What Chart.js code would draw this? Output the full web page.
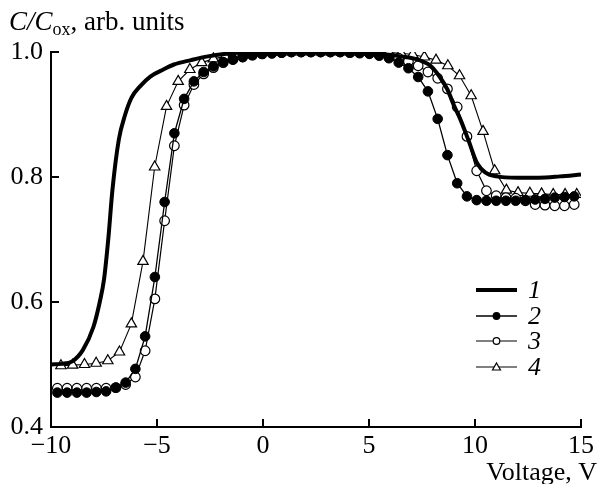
<!DOCTYPE html>
<html>
<head>
<meta charset="utf-8">
<script src="https://cdn.jsdelivr.net/npm/chart.js@4/dist/chart.umd.min.js"></script>
<style>
  html, body { margin: 0; padding: 0; background: #fff; }
  #wrap { width: 598px; height: 484px; position: relative; }
</style>
</head>
<body>
<div id="wrap"><canvas id="cv"></canvas></div>
<script>
// Curve 1 (thick line, no markers)
const voltage1 = [-10, -9.5, -9.0, -8.5, -8.0, -7.7, -7.5, -7.3, -7.1, -6.8, -6.5, -6.2, -5.8, -5.3, -4.7, -4.2, -3.4, -2.6, -1.5, 0, 2, 4, 5.5, 6.5, 7.3, 7.9, 8.3, 8.7, 9.0, 9.3, 9.7, 10.1, 10.5, 11.0, 12.0, 13.0, 14.0, 15.0];
const curve1 = [0.500, 0.501, 0.505, 0.523, 0.560, 0.600, 0.636, 0.700, 0.780, 0.860, 0.900, 0.927, 0.945, 0.961, 0.972, 0.980, 0.987, 0.993, 0.998, 1.000, 1.000, 1.000, 0.997, 0.993, 0.988, 0.978, 0.962, 0.940, 0.915, 0.893, 0.858, 0.822, 0.807, 0.801, 0.799, 0.799, 0.801, 0.804];

// Curves 2 and 3 (circles) share one voltage list
const voltageCirc = [-9.70, -9.24, -8.78, -8.32, -7.86, -7.40, -6.94, -6.48, -6.02, -5.56, -5.10, -4.64, -4.18, -3.72, -3.26, -2.80, -2.34, -1.88, -1.42, -0.96, -0.50, -0.04, 0.42, 0.88, 1.34, 1.80, 2.26, 2.72, 3.18, 3.64, 4.10, 4.56, 5.02, 5.48, 5.94, 6.40, 6.86, 7.32, 7.78, 8.24, 8.70, 9.16, 9.62, 10.08, 10.54, 11.00, 11.46, 11.92, 12.38, 12.84, 13.30, 13.76, 14.22, 14.68];
const curve2 = [0.455, 0.455, 0.455, 0.455, 0.456, 0.457, 0.463, 0.471, 0.493, 0.545, 0.640, 0.760, 0.870, 0.925, 0.953, 0.968, 0.977, 0.984, 0.988, 0.992, 0.995, 0.997, 0.998, 0.999, 1.000, 1.000, 1.000, 1.000, 1.000, 1.000, 0.999, 0.998, 0.997, 0.994, 0.990, 0.983, 0.974, 0.960, 0.937, 0.893, 0.835, 0.790, 0.769, 0.763, 0.762, 0.762, 0.762, 0.762, 0.763, 0.764, 0.765, 0.767, 0.768, 0.769];
const curve3 = [0.462, 0.462, 0.462, 0.462, 0.462, 0.462, 0.463, 0.468, 0.480, 0.522, 0.605, 0.730, 0.850, 0.915, 0.948, 0.965, 0.975, 0.983, 0.988, 0.992, 0.995, 0.997, 0.998, 0.999, 1.000, 1.000, 1.000, 1.000, 1.000, 1.000, 0.999, 0.999, 0.998, 0.996, 0.994, 0.990, 0.985, 0.978, 0.968, 0.958, 0.941, 0.912, 0.865, 0.810, 0.778, 0.770, 0.767, 0.766, 0.762, 0.756, 0.755, 0.754, 0.754, 0.756];

// Curve 4 (triangles)
const voltageTri = [-9.53, -8.98, -8.42, -7.87, -7.32, -6.77, -6.21, -5.66, -5.11, -4.55, -4.00, -3.45, -2.89, -2.34, -1.79, -1.24, -0.68, -0.13, 0.42, 0.98, 1.53, 2.08, 2.64, 3.19, 3.74, 4.29, 4.85, 5.40, 5.95, 6.51, 7.06, 7.61, 8.16, 8.72, 9.27, 9.82, 10.38, 10.93, 11.48, 12.03, 12.59, 13.14, 13.69, 14.25, 14.80];
const curve4 = [0.498, 0.499, 0.500, 0.502, 0.506, 0.520, 0.565, 0.665, 0.816, 0.913, 0.953, 0.972, 0.983, 0.989, 0.993, 0.996, 0.998, 0.999, 1.000, 1.000, 1.000, 1.000, 1.000, 1.000, 1.000, 1.000, 1.000, 0.999, 0.999, 0.998, 0.996, 0.992, 0.987, 0.978, 0.962, 0.930, 0.873, 0.810, 0.779, 0.775, 0.774, 0.773, 0.772, 0.772, 0.772];

const seriesLabels = ['1', '2', '3', '4'];
const xTicks = [-10, -5, 0, 5, 10, 15];
const yTicks = [0.4, 0.6, 0.8, 1.0];

const FONT = '"Liberation Serif", "Times New Roman", serif';

function pts(xs, ys) {
  return xs.map((x, i) => ({ x: x, y: ys[i] }));
}

// inward tick marks, axis titles and the legend
const decorPlugin = {
  id: 'decor',
  afterDraw(chart) {
    const ctx = chart.ctx;
    const xs = chart.scales.x, ys = chart.scales.y;
    const area = chart.chartArea;
    ctx.save();
    ctx.strokeStyle = '#000';
    ctx.lineWidth = 2;
    ctx.beginPath();
    xTicks.forEach(v => {
      const px = xs.getPixelForValue(v);
      ctx.moveTo(px, area.bottom);
      ctx.lineTo(px, area.bottom - 8);
    });
    yTicks.forEach(v => {
      const py = ys.getPixelForValue(v);
      ctx.moveTo(area.left, py);
      ctx.lineTo(area.left + 8, py);
    });
    ctx.stroke();

    // y title: C/C_ox, arb. units
    ctx.fillStyle = '#000';
    ctx.textBaseline = 'alphabetic';
    ctx.textAlign = 'left';
    let x = 9, base = 30;
    ctx.font = 'italic 27px ' + FONT;
    ctx.fillText('C/C', x, base);
    x += ctx.measureText('C/C').width;
    ctx.font = '18px ' + FONT;
    ctx.fillText('ox', x, base + 5);
    x += ctx.measureText('ox').width;
    ctx.font = '27px ' + FONT;
    ctx.fillText(', arb. units', x, base);

    // x title
    ctx.textAlign = 'right';
    ctx.font = '26px ' + FONT;
    ctx.fillText('Voltage, V', 597, 480);

    // legend
    const rows = [290, 316, 341, 367];
    chart.data.datasets.forEach((ds, i) => {
      const y = rows[i];
      ctx.strokeStyle = '#000';
      ctx.lineWidth = ds.borderWidth;
      ctx.beginPath();
      ctx.moveTo(476, y);
      ctx.lineTo(517, y);
      ctx.stroke();
      if (ds.pointRadius > 0) {
        ctx.fillStyle = ds.pointBackgroundColor;
        ctx.strokeStyle = '#000';
        ctx.lineWidth = 1.2;
        ctx.beginPath();
        if (ds.pointStyle === 'triangle') {
          ctx.moveTo(496.5, y - 4);
          ctx.lineTo(500.5, y + 3);
          ctx.lineTo(492.5, y + 3);
          ctx.closePath();
        } else {
          ctx.arc(496.5, y, 3.3, 0, Math.PI * 2);
        }
        ctx.fill();
        ctx.stroke();
      }
      ctx.fillStyle = '#000';
      ctx.textAlign = 'left';
      ctx.textBaseline = 'middle';
      ctx.font = 'italic 26px ' + FONT;
      ctx.fillText(seriesLabels[i], 528, y + 1);
    });
    ctx.restore();
  }
};

new Chart(document.getElementById('cv'), {
  type: 'line',
  data: {
    datasets: [
      {
        label: seriesLabels[0],
        data: pts(voltage1, curve1),
        borderColor: '#000',
        borderWidth: 4,
        pointRadius: 0,
        cubicInterpolationMode: 'monotone'
      },
      {
        label: seriesLabels[1],
        data: pts(voltageCirc, curve2),
        borderColor: '#000',
        borderWidth: 1.3,
        pointStyle: 'circle',
        pointRadius: 4.8,
        pointBackgroundColor: '#000',
        pointBorderColor: '#000',
        pointBorderWidth: 1
      },
      {
        label: seriesLabels[2],
        data: pts(voltageCirc, curve3),
        borderColor: '#000',
        borderWidth: 1.2,
        pointStyle: 'circle',
        pointRadius: 4.8,
        pointBackgroundColor: '#fff',
        pointBorderColor: '#000',
        pointBorderWidth: 1.2
      },
      {
        label: seriesLabels[3],
        data: pts(voltageTri, curve4),
        borderColor: '#000',
        borderWidth: 1.1,
        pointStyle: 'triangle',
        pointRadius: 6,
        pointBackgroundColor: '#fff',
        pointBorderColor: '#000',
        pointBorderWidth: 1.2
      }
    ]
  },
  options: {
    responsive: true,
    maintainAspectRatio: false,
    animation: false,
    layout: { padding: { top: 52, right: 12, left: 0, bottom: 0 } },
    plugins: {
      legend: { display: false },
      tooltip: { enabled: false }
    },
    scales: {
      x: {
        type: 'linear',
        min: -10,
        max: 15,
        afterBuildTicks: s => { s.ticks = xTicks.map(v => ({ value: v })); },
        afterFit: s => { s.height = 57; },
        grid: { display: false, drawTicks: false },
        border: { display: true, color: '#000', width: 2 },
        ticks: {
          color: '#000',
          padding: 4,
          maxRotation: 0,
          font: { family: FONT, size: 26 },
          callback: v => String(v).replace('-', '\u2212')
        }
      },
      y: {
        type: 'linear',
        min: 0.4,
        max: 1.0,
        afterBuildTicks: s => { s.ticks = yTicks.map(v => ({ value: v })); },
        afterFit: s => { s.width = 51; },
        grid: { display: false, drawTicks: false },
        border: { display: true, color: '#000', width: 2 },
        ticks: {
          color: '#000',
          padding: 8,
          font: { family: FONT, size: 26 },
          callback: v => v.toFixed(1)
        }
      }
    }
  },
  plugins: [decorPlugin]
});
</script>
</body>
</html>
